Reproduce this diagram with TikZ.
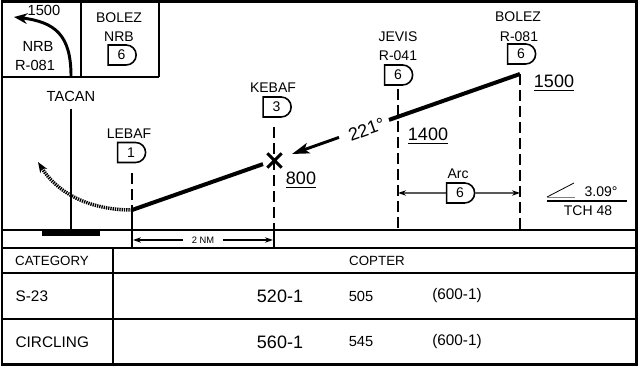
\documentclass[tikz,border=0pt]{standalone}
\usepackage{fontspec}
\setmainfont{Liberation Sans}
\usetikzlibrary{shapes.misc,arrows.meta}

\begin{document}
\begin{tikzpicture}
  [x=0.75pt,y=-0.75pt,line width=1pt,
   every node/.style={inner sep=0pt,font=\fontsize{10.5}{12}\selectfont},
   fixbox/.style={draw,line width=1.2pt,rounded rectangle,rounded rectangle left arc=none,
     minimum width=21pt,minimum height=15pt},
   altnum/.style={font=\fontsize{13.5}{15}\selectfont},
   tbl/.style={font=\fontsize{11.5}{13}\selectfont},
   dsh/.style={dash pattern=on 8pt off 4pt},
   prof/.style={line width=3pt},
   miss/.style={line width=2.6pt,dash pattern=on 1pt off 0.7pt}]
  \useasboundingbox (0,0) rectangle (638,366);

  % frame and table
  \draw[line width=2pt] (2,1.5) rectangle (636.5,364.5);
  \draw[line width=1.3pt] (2,77) -- (159,77) (81,1) -- (81,77) (159,1) -- (159,77);
  \draw[line width=2.2pt] (2,230) -- (636,230);
  \draw[line width=1.2pt] (2,248) -- (636,248) (2,273) -- (636,273) (2,319) -- (636,319)
    (113,248) -- (113,365);

  % NRB boxes
  \node[font=\fontsize{11}{12}\selectfont] (nrbalt) at (44,10) {1500};
  \node[font=\fontsize{11}{12}\selectfont] (nrbname) at (38,46) {NRB};
  \node[font=\fontsize{11}{12}\selectfont] (nrbrad) at (35,65) {R-081};
  \coordinate (nrbstart) at (71,76);
  \coordinate (nrbtip) at (14,17);
  \draw[line width=2.2pt,-{Stealth[length=10pt,width=8pt]}]
    (nrbstart) .. controls (71,35) and (55,22) .. (nrbtip);
  \node (bolezname) at (119,18) {BOLEZ};
  \node (bolezaid) at (119,37) {NRB};
  \node[fixbox] (bolezdme) at (121.5,55) {6};

  % fixes
  \node[font=\fontsize{11}{12}\selectfont] (tacan) at (71,96) {TACAN};
  \node (lebafname) at (129,134) {LEBAF};
  \node[fixbox] (lebaf) at (131,152.5) {1};
  \node (kebafname) at (273,88) {KEBAF};
  \node[fixbox] (kebaf) at (276.5,107) {3};
  \node (jevisname) at (398,37) {JEVIS};
  \node (jevisrad) at (398,56) {R-041};
  \node[fixbox] (jevis) at (398,75) {6};
  \node (bolezfix) at (518,17) {BOLEZ};
  \node (bolezrad) at (519,37) {R-081};
  \node[fixbox] (bolez) at (521,54) {6};

  \coordinate (tacanbase) at (71,230);
  \draw[shorten <=5pt] (tacan.south) -- (tacanbase);
  \fill (42,231) rectangle (100,236);

  % profile
  \coordinate (plebaf) at (132,210);
  \coordinate (pkebaf) at (263,164.1);
  \coordinate (pjevis) at (389,119.9);
  \coordinate (pbolez) at (520,74);
  \node[cross out,draw,line width=2.2pt,minimum size=8.5pt] (kebafx) at (274.5,160.5) {};
  \draw[prof] (plebaf) -- (pkebaf);
  \draw[prof] (pjevis) -- (pbolez);
  \coordinate (crsstart) at (339,137.4);
  \coordinate (crstip) at (292,154);
  \draw[line width=2.2pt,-{Stealth[length=13pt,width=8pt,inset=3pt]}] (crsstart) -- (crstip);
  \node[font=\fontsize{13.5}{15}\selectfont,rotate=19.3] (crs) at (366.5,129.5) {221°};

  \node[altnum] (alt800) at (301,180) {\underline{800}};
  \node[altnum] (alt1400) at (428,136) {\underline{1400}};
  \node[altnum] (alt1500) at (554,83) {\underline{1500}};

  % fix lines
  \coordinate (lebaftop) at (132,173);
  \coordinate (kebaftop) at (274,127);
  \coordinate (jevistop) at (398,89);
  \coordinate (kebafbase) at (274,230);
  \coordinate (jevisbase) at (398,230);
  \coordinate (bolezbase) at (520,230);
  \coordinate (lebafgnd) at (132,248);
  \coordinate (kebafgnd) at (274,248);
  \foreach \from/\to in {lebaftop/plebaf,kebaftop/kebafbase,jevistop/jevisbase,pbolez/bolezbase}
    \draw[dsh] (\from) -- (\to);
  \foreach \from/\to in {plebaf/lebafgnd,kebafbase/kebafgnd}
    \draw (\from) -- (\to);

  % missed approach
  \coordinate (missend) at (38,162);
  \draw[miss,-{Stealth[length=8pt,width=6pt]}] (plebaf) .. controls (95,210) and (60,197) .. (missend);

  % arc and distance
  \node (arclbl) at (458,174) {Arc};
  \node[fixbox] (arcfix) at (460,193) {6};
  \coordinate (jevisarc) at (398,193);
  \coordinate (bolezarc) at (520,193);
  \foreach \to in {jevisarc,bolezarc}
    \draw[-{Stealth[length=6pt,width=4pt]}] (arcfix) -- (\to);
  \node[font=\fontsize{7}{8}\selectfont,inner xsep=6pt] (twonm) at (203,240) {2 NM};
  \coordinate (lebafdim) at (133,240);
  \coordinate (kebafdim) at (273,240);
  \foreach \to in {lebafdim,kebafdim}
    \draw[-{Stealth[length=6pt,width=4pt]}] (twonm) -- (\to);

  % glide slope
  \draw[line width=0.6pt] (547,197) -- (574,183);
  \draw[line width=0.6pt,gray] (547,197) -- (575,197);
  \draw[line width=0.8pt] (547,201) -- (627,201);
  \node (gsangle) at (601,192) {3.09°};
  \node (tch) at (588,211) {TCH 48};

  % minima
  \node[font=\fontsize{10}{12}\selectfont] (cat) at (52,260.5) {CATEGORY};
  \node[font=\fontsize{10}{12}\selectfont] (copter) at (377,260.5) {COPTER};
  \node[tbl,anchor=west] (s23) at (15,296) {S-23};
  \node[tbl,anchor=west] (circ) at (15,342) {CIRCLING};
  \node[font=\fontsize{13.5}{15}\selectfont] (s23mda) at (280,296) {520-1};
  \node[font=\fontsize{13.5}{15}\selectfont] (circmda) at (280,342) {560-1};
  \node[font=\fontsize{11}{13}\selectfont] (s23hat) at (361,296) {505};
  \node[font=\fontsize{11}{13}\selectfont] (circhat) at (361,342) {545};
  \node[font=\fontsize{11.5}{13}\selectfont] (s23mil) at (457,296) {(600-1)};
  \node[font=\fontsize{11.5}{13}\selectfont] (circmil) at (457,342) {(600-1)};
\end{tikzpicture}
\end{document}
